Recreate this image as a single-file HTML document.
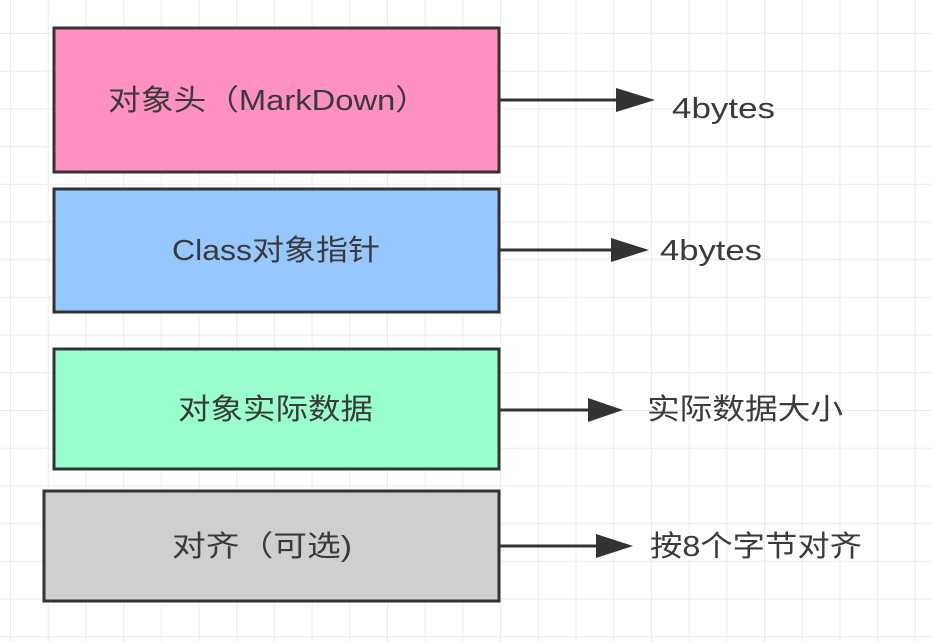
<!DOCTYPE html>
<html><head><meta charset="utf-8"><style>
html,body{margin:0;padding:0;background:#fff;}
svg{display:block}
text{font-family:"Liberation Sans","Noto Sans CJK SC",sans-serif;font-size:29px;fill:#3a3a3a;dominant-baseline:central}
</style></head><body>
<svg width="932" height="642" viewBox="0 0 932 642">
<defs>
<pattern id="g" x="10" y="33" width="37.7" height="37.7" patternUnits="userSpaceOnUse">
<path d="M0 0H37.7M0 0V37.7" stroke="#ebebeb" stroke-width="2" fill="none"/>
</pattern>
</defs>
<rect width="932" height="642" fill="#fff"/>
<rect width="932" height="642" fill="url(#g)"/>
<g stroke="#333" stroke-width="3">
<rect x="54" y="28" width="445" height="144" fill="#ff91c2"/>
<rect x="54" y="189" width="445" height="123" fill="#96c8ff"/>
<rect x="54" y="349" width="445" height="120" fill="#99ffcc"/>
<rect x="44" y="491" width="455" height="110" fill="#cfcfcf"/>
<line x1="499" y1="100" x2="620" y2="100"/>
<line x1="499" y1="250" x2="615" y2="250"/>
<line x1="499" y1="410" x2="592" y2="410"/>
<line x1="499" y1="546" x2="600" y2="546"/>
</g>
<g fill="#333">
<polygon points="616,88 655,100 616,112"/>
<polygon points="611,238 649,250 611,262"/>
<polygon points="588,398 623,410 588,422"/>
<polygon points="596,534 633,546 596,558"/>
</g>
<text x="108" y="101" textLength="320" lengthAdjust="spacingAndGlyphs">对象头（MarkDown）</text>
<text x="172" y="251" textLength="208" lengthAdjust="spacingAndGlyphs">Class对象指针</text>
<text x="178" y="410" textLength="195" lengthAdjust="spacingAndGlyphs">对象实际数据</text>
<text x="172" y="547" textLength="180" lengthAdjust="spacingAndGlyphs">对齐（可选)</text>
<text x="672" y="109" textLength="103" lengthAdjust="spacingAndGlyphs">4bytes</text>
<text x="660" y="251" textLength="102" lengthAdjust="spacingAndGlyphs">4bytes</text>
<text x="647" y="410" textLength="196" lengthAdjust="spacingAndGlyphs">实际数据大小</text>
<text x="650" y="547" textLength="212" lengthAdjust="spacingAndGlyphs">按8个字节对齐</text>
</svg>
</body></html>
